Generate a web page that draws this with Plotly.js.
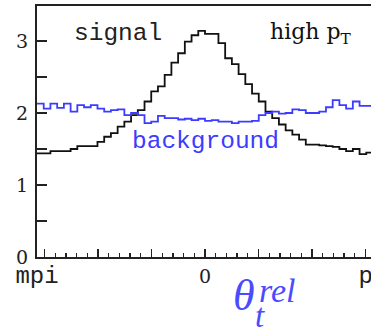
<!DOCTYPE html>
<html>
<head>
<meta charset="utf-8">
<script src="https://cdn.plot.ly/plotly-3.0.1.min.js"></script>
<style>
html, body { margin: 0; padding: 0; overflow: hidden; background: #fff; }
#chart { width: 400px; height: 332px; }
</style>
</head>
<body>
<div id="chart"></div>
<script>
// Histogram contents, 50 bins spanning [-pi, pi]
const nBins = 50;
const signal = [
  1.44, 1.44, 1.47, 1.47, 1.47, 1.50, 1.54, 1.54, 1.54, 1.60,
  1.67, 1.72, 1.81, 1.88, 1.97, 2.04, 2.16, 2.30, 2.37, 2.53,
  2.70, 2.83, 2.99, 3.08, 3.14, 3.10, 3.10, 2.97, 2.76, 2.68,
  2.54, 2.40, 2.27, 2.16, 2.02, 1.93, 1.84, 1.76, 1.70, 1.63,
  1.56, 1.56, 1.55, 1.54, 1.53, 1.50, 1.47, 1.50, 1.43, 1.45
];
const background = [
  2.13, 2.06, 2.13, 2.07, 2.13, 2.02, 2.11, 2.08, 2.11, 2.06,
  2.02, 2.04, 2.05, 1.97, 2.00, 1.97, 1.86, 1.88, 1.96, 1.93,
  1.93, 1.91, 1.92, 1.90, 1.92, 1.89, 1.90, 1.88, 1.88, 1.86,
  1.88, 1.88, 1.89, 1.97, 2.00, 2.02, 1.99, 2.00, 2.05, 2.04,
  2.00, 2.00, 2.02, 2.08, 2.18, 2.11, 2.06, 2.16, 2.10, 2.10
];
// Major x tick positions and their labels (only -pi, 0, pi are labelled)
const xTickVals = [-Math.PI, -3, -2, -1, 0, 1, 2, 3, Math.PI];
const xTickText = ['mpi', '', '', '', '<span style="font-family:DejaVu Serif;font-size:19px">0</span>', '', '', '', 'pi'];
const seriesNames = ['signal', 'background'];

const xLo = -Math.PI, xHi = Math.PI;
const edges = [];
for (let i = 0; i <= nBins; i++) edges.push(xLo + (xHi - xLo) * i / nBins);
function stepY(v) { return v.concat([v[v.length - 1]]); }

const traces = [
  { x: edges, y: stepY(signal), type: 'scatter', mode: 'lines', name: seriesNames[0],
    line: { shape: 'hv', color: '#111111', width: 1.8 }, hoverinfo: 'skip' },
  { x: edges, y: stepY(background), type: 'scatter', mode: 'lines', name: seriesNames[1],
    line: { shape: 'hv', color: '#3c3cff', width: 1.8 }, hoverinfo: 'skip' }
];

const blue = '#4a4aff';
const layout = {
  width: 400, height: 332,
  margin: { l: 37, r: 27, t: 6, b: 75, pad: 0 },
  paper_bgcolor: '#ffffff', plot_bgcolor: '#ffffff',
  showlegend: false,
  xaxis: {
    range: [xLo, xHi], showline: true, linecolor: '#222', linewidth: 2, mirror: true,
    showgrid: false, zeroline: false, tickmode: 'array', tickvals: xTickVals, ticktext: xTickText,
    ticks: 'inside', ticklen: 8, tickwidth: 1.5, tickcolor: '#222',
    tickfont: { family: 'Liberation Mono', size: 24, color: '#222' },
    ticklabelstandoff: -5,
    minor: { tick0: 0, dtick: 0.2, ticks: 'inside', ticklen: 4, tickwidth: 1.3, tickcolor: '#222', showgrid: false }
  },
  yaxis: {
    range: [0, 3.486], showline: true, linecolor: '#222', linewidth: 2,
    showgrid: false, zeroline: false, tickmode: 'linear', tick0: 0, dtick: 1,
    ticks: 'inside', ticklen: 10, tickwidth: 1.8, tickcolor: '#222',
    tickfont: { family: 'DejaVu Serif', size: 19, color: '#222' },
    ticklabelstandoff: 3,
    minor: { tick0: 0, dtick: 0.5, ticks: 'inside', ticklen: 10, tickwidth: 1.8, tickcolor: '#222', showgrid: false }
  },
  annotations: [
    { text: 'signal', xref: 'x', yref: 'y', x: -1.63, y: 3.10, showarrow: false,
      font: { family: 'Liberation Mono', size: 24.5, color: '#222' } },
    { text: 'high p<sub>T</sub>', xref: 'x', yref: 'y', x: 1.99, y: 3.10, showarrow: false,
      font: { family: 'DejaVu Serif', size: 22, color: '#111' } },
    { text: 'background', xref: 'x', yref: 'y', x: 0, y: 1.61, showarrow: false,
      font: { family: 'Liberation Mono', size: 24.5, color: '#3c3cff' } },
    { text: '<i>θ</i>', xref: 'paper', yref: 'paper', x: 0.578, y: -0.048,
      xanchor: 'left', yanchor: 'top', showarrow: false,
      font: { family: 'Liberation Serif', size: 44, color: blue } },
    { text: '<i>rel</i>', xref: 'paper', yref: 'paper', x: 0.655, y: -0.052,
      xanchor: 'left', yanchor: 'top', showarrow: false,
      font: { family: 'Liberation Serif', size: 34, color: blue } },
    { text: '<i>t</i>', xref: 'paper', yref: 'paper', x: 0.664, y: -0.235,
      xanchor: 'center', yanchor: 'middle', showarrow: false,
      font: { family: 'Liberation Serif', size: 33, color: blue } }
  ]
};

Plotly.newPlot('chart', traces, layout, { staticPlot: true, displayModeBar: false });
</script>
</body>
</html>
